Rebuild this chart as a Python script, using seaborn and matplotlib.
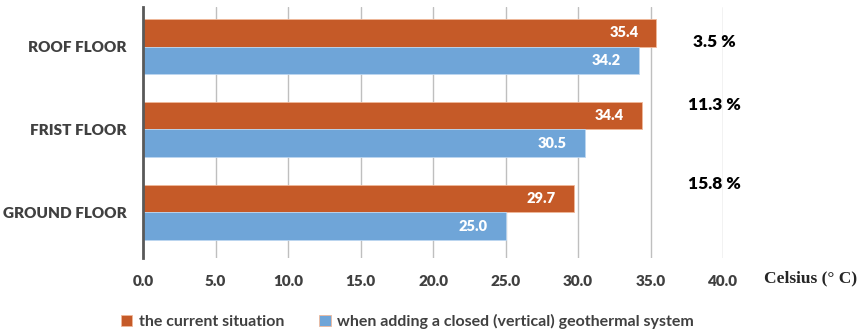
import matplotlib
matplotlib.use("Agg")
import matplotlib.pyplot as plt
import seaborn as sns
import pandas as pd

categories = ["ROOF FLOOR", "FRIST FLOOR", "GROUND FLOOR"]
current = [35.4, 34.4, 29.7]
geothermal = [34.2, 30.5, 25.0]
series_names = ["the current situation", "when adding a closed (vertical) geothermal system"]
percent_labels = ["3.5 %", "11.3 %", "15.8 %"]
xticks = [0, 5, 10, 15, 20, 25, 30, 35, 40]

df = pd.DataFrame({
    "floor": categories * 2,
    "value": current + geothermal,
    "series": [series_names[0]] * 3 + [series_names[1]] * 3,
})

sns.set_theme(style="white")
plt.rcParams["font.family"] = ["Lato", "DejaVu Sans"]

fig = plt.figure(figsize=(8.67, 3.35), dpi=100)
ax = fig.add_axes([0.165, 0.23, 0.669, 0.75])

colors = ["#C55A28", "#6FA5D8"]
sns.barplot(data=df, y="floor", x="value", hue="series", order=categories,
            hue_order=series_names, palette=colors, saturation=1, width=0.66,
            orient="h", ax=ax, edgecolor="#f0b89a", linewidth=0.6, zorder=3)
for bar in ax.containers[1]:
    bar.set_edgecolor("#bcd6f0")

for cont in ax.containers:
    ax.bar_label(cont, fmt="%.1f", padding=-34, color="white",
                 fontsize=10.5, fontweight="heavy")

ax.set_xlim(0, 40)
ax.set_ylim(2.55, -0.48)
ax.set_xticks(xticks)
ax.set_xticklabels([f"{v:.1f}" for v in xticks], fontsize=11, fontweight="heavy", color="#404040")
ax.tick_params(axis="x", length=0, pad=12)
ax.tick_params(axis="y", length=0, pad=12)
for lbl in ax.get_yticklabels():
    lbl.set_fontsize(11)
    lbl.set_fontweight("heavy")
    lbl.set_color("#404040")
ax.set_xlabel("")
ax.set_ylabel("")
ax.grid(axis="x", color="#bfbfbf", linewidth=1, zorder=0)
ax.grid(axis="y", visible=False)
for s in ["top", "right", "bottom"]:
    ax.spines[s].set_visible(False)
ax.spines["left"].set_color("#595959")
ax.spines["left"].set_linewidth(2)
ax.spines["left"].set_zorder(5)

pct_y = [-0.05, 0.7, 1.66]
for lab, y in zip(percent_labels, pct_y):
    ax.text(39.4, y, lab, ha="center", va="center", fontsize=12.5,
            fontweight="heavy", color="black", zorder=6)

fig.text(0.935, 0.17, "Celsius (° C)", ha="center", va="center",
         fontsize=12.5, fontweight="bold", family=["Liberation Serif", "DejaVu Serif"])

handles, labels = ax.get_legend_handles_labels()
ax.legend_.remove()
fig.legend(handles, labels, loc="center", bbox_to_anchor=(0.47, 0.04), ncol=2,
           frameon=False, handlelength=0.7, handleheight=0.7,
           handletextpad=0.4, columnspacing=2.2,
           prop={"family": ["Lato", "DejaVu Sans"], "size": 11.5, "weight": "bold"})
for t in fig.legends[0].get_texts():
    t.set_color("#404040")

fig.savefig("out.png", dpi=100)
